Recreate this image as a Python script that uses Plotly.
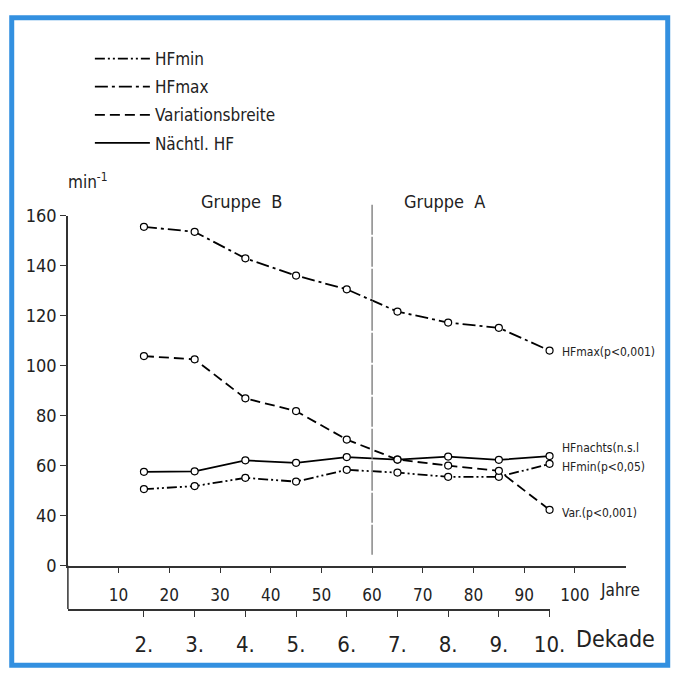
import plotly.graph_objects as go

# ---- data ----
ages = [15, 25, 35, 45, 55, 65, 75, 85, 95]
hf_max = [155.5, 153.5, 142.9, 136.0, 130.5, 121.6, 117.2, 115.1, 106.0]
variation = [103.8, 102.5, 86.9, 81.8, 70.4, 62.4, 60.0, 57.9, 42.3]
hf_night = [57.5, 57.7, 62.1, 61.1, 63.4, 62.4, 63.6, 62.3, 63.8]
hf_min = [50.6, 51.8, 55.1, 53.6, 58.3, 57.2, 55.5, 55.5, 60.7]

year_ticks = [10, 20, 30, 40, 50, 60, 70, 80, 90, 100]
decade_pos = [15, 25, 35, 45, 55, 65, 75, 85, 95]
decade_labels = ["2.", "3.", "4.", "5.", "6.", "7.", "8.", "9.", "10."]
y_tick_values = [0, 40, 60, 80, 100, 120, 140, 160]

series_names = ["HFmin", "HFmax", "Variationsbreite", "Nächtl. HF"]

W, H = 693, 680
FONT = "DejaVu Sans Condensed, Liberation Sans Narrow, sans-serif"
INK = "#222"


def ty(v):
    # broken axis: 0..40 compressed into one 20-unit step
    return v if v >= 40 else 20 + v / 2.0


def px(x):
    return x / W


def py(y):
    return 1 - y / H


dashes = {
    "HFmin": "10px,3px,2px,3px,2px,3px",
    "HFmax": "13px,4px,3px,4px",
    "Variationsbreite": "10px,5px",
    "Nächtl. HF": "solid",
}
values = {
    "HFmin": hf_min,
    "HFmax": hf_max,
    "Variationsbreite": variation,
    "Nächtl. HF": hf_night,
}

fig = go.Figure()

for name in ["Nächtl. HF", "HFmin", "Variationsbreite", "HFmax"]:
    fig.add_trace(go.Scatter(
        x=ages, y=[ty(v) for v in values[name]], mode="lines+markers",
        line=dict(color="black", width=1.8, dash=dashes[name]),
        marker=dict(symbol="circle", size=7, color="white",
                    line=dict(width=1.2, color="black")),
        showlegend=False, hoverinfo="skip",
    ))

for i, name in enumerate(series_names):
    fig.add_trace(go.Scatter(
        x=[None], y=[None], mode="lines", name=name,
        line=dict(color="black", width=1.8, dash=dashes[name]),
        legendgroup=str(i), showlegend=True,
    ))

# placeholder trace so the decade axis subplot exists
fig.add_trace(go.Scatter(x=[None], y=[None], xaxis="x2", yaxis="y2", showlegend=False,
                         hoverinfo="skip"))

x0px, xscale = 69.5, 5.19
y40px, yscale = 520.7, 2.58
x_max = 110
y_lo, y_hi = 20, 160
ydom = [py(y40px + (40 - y_lo) * yscale), py(y40px - (y_hi - 40) * yscale)]
dek_y = 617

fig.update_layout(
    width=W, height=H, margin=dict(l=0, r=0, t=0, b=0),
    paper_bgcolor="white", plot_bgcolor="white",
    font=dict(family=FONT, color=INK),
    xaxis=dict(
        domain=[px(x0px), px(x0px + x_max * xscale)], range=[0, x_max],
        tickvals=year_ticks, ticktext=[str(t) for t in year_ticks],
        showline=True, linecolor="#333", linewidth=1.5,
        ticks="outside", ticklen=6, tickcolor="#333", tickwidth=1.3,
        ticklabelstandoff=7,
        showgrid=False, zeroline=False, anchor="y",
        tickfont=dict(size=17, family=FONT, color=INK),
    ),
    xaxis2=dict(
        domain=[px(x0px), px(x0px + 95 * xscale)], range=[0, 95],
        tickvals=decade_pos, ticktext=decade_labels,
        showline=True, linecolor="#333", linewidth=1.5,
        ticks="outside", ticklen=6, tickcolor="#333", tickwidth=1.3,
        ticklabelstandoff=9,
        showgrid=False, zeroline=False, anchor="y2",
        tickfont=dict(size=22, family=FONT, color=INK),
    ),
    yaxis=dict(
        domain=ydom, range=[y_lo, y_hi],
        tickvals=[ty(v) for v in y_tick_values], ticktext=[str(v) for v in y_tick_values],
        showline=True, linecolor="#333", linewidth=1.5,
        ticks="outside", ticklen=6, tickcolor="#333", tickwidth=1.3,
        showgrid=False, zeroline=False, anchor="x",
        tickfont=dict(size=18, family=FONT, color=INK),
    ),
    yaxis2=dict(domain=[py(dek_y), py(dek_y - 12)], range=[0, 1], visible=False, anchor="x2"),
    legend=dict(
        x=px(92), y=py(31), xanchor="left", yanchor="top",
        font=dict(size=17, family=FONT, color=INK),
        tracegroupgap=3, itemwidth=55, bgcolor="rgba(0,0,0,0)",
    ),
)

# y-axis continues down to the decade axis
fig.add_shape(type="line", xref="paper", yref="paper",
              x0=px(x0px), x1=px(x0px), y0=ydom[0], y1=py(dek_y),
              line=dict(color="#333", width=1.5))

# group divider at 60 years
fig.add_shape(type="line", xref="x", yref="paper", x0=60, x1=60,
              y0=py(200), y1=py(563),
              line=dict(color="#888", width=1.5, dash="30px,2px"))

# blue frame
fig.add_shape(type="rect", xref="paper", yref="paper",
              x0=px(12), x1=px(683.5), y0=py(675), y1=py(7),
              line=dict(color="#3390e0", width=5))

fig.add_annotation(x=px(247), y=py(197), xref="paper", yref="paper", text="Gruppe  B",
                   showarrow=False, yanchor="middle",
                   font=dict(size=18, family=FONT, color=INK))
fig.add_annotation(x=px(455), y=py(197), xref="paper", yref="paper", text="Gruppe  A",
                   showarrow=False, yanchor="middle",
                   font=dict(size=18, family=FONT, color=INK))

fig.add_annotation(x=px(68), y=py(175), xref="paper", yref="paper", text="min<sup>-1</sup>",
                   showarrow=False, yanchor="middle",
                   font=dict(size=17, family=FONT, color=INK))

fig.add_annotation(x=px(612), y=py(597), xref="paper", yref="paper", text="Jahre",
                   showarrow=False, xanchor="left", yanchor="middle",
                   font=dict(size=17, family=FONT, color=INK))
fig.add_annotation(x=px(588), y=py(648), xref="paper", yref="paper", text="Dekade",
                   showarrow=False, xanchor="left", yanchor="middle",
                   font=dict(size=23, family=FONT, color=INK))

end_y = {"HFmax": 105.4, "HFnachts": 67.0, "HFmin": 59.6, "Var": 41.0}
for txt, key in zip(["HFmax(p<0,001)", "HFnachts(n.s.l", "HFmin(p<0,05)", "Var.(p<0,001)"],
                    ["HFmax", "HFnachts", "HFmin", "Var"]):
    fig.add_annotation(x=97, y=end_y[key], xref="x", yref="y", text=txt, showarrow=False,
                       xanchor="left", font=dict(size=12, family=FONT, color=INK))

fig.write_html("out.html")
